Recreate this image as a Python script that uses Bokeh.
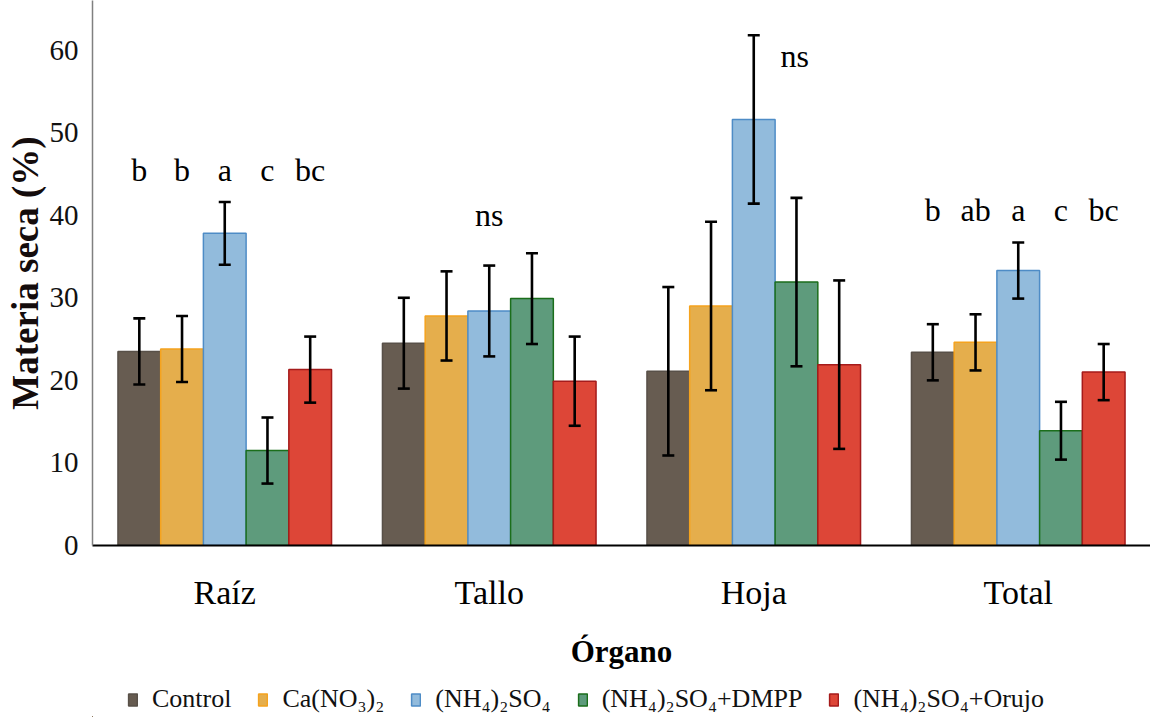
from bokeh.plotting import figure
from bokeh.layouts import column
from bokeh.models import ColumnDataSource, Whisker, TeeHead, Legend, LegendItem, Range1d, FixedTicker
from bokeh.core.properties import value
from bokeh.embed import file_html
from bokeh.resources import INLINE

# ---- data ----
organs = ["Raíz", "Tallo", "Hoja", "Total"]
treatments = ["Control", "Ca(NO₃)₂", "(NH₄)₂SO₄", "(NH₄)₂SO₄+DMPP", "(NH₄)₂SO₄+Orujo"]

control = [23.5, 24.5, 21.1, 23.4]
ca_no3 = [23.8, 27.8, 29.0, 24.6]
nh4_so4 = [37.8, 28.4, 51.6, 33.3]
nh4_dmpp = [11.5, 29.9, 31.9, 13.9]
nh4_orujo = [21.3, 19.9, 21.9, 21.0]

err_control = [4.0, 5.5, 10.2, 3.4]
err_ca_no3 = [4.0, 5.4, 10.2, 3.4]
err_nh4_so4 = [3.8, 5.5, 10.2, 3.4]
err_nh4_dmpp = [4.0, 5.5, 10.2, 3.5]
err_nh4_orujo = [4.0, 5.4, 10.2, 3.4]

letters_raiz = ["b", "b", "a", "c", "bc"]
letters_total = ["b", "ab", "a", "c", "bc"]
ns_tallo = "ns"
ns_hoja = "ns"

y_ticks = [0, 10, 20, 30, 40, 50, 60]

series_values = [control, ca_no3, nh4_so4, nh4_dmpp, nh4_orujo]
series_errors = [err_control, err_ca_no3, err_nh4_so4, err_nh4_dmpp, err_nh4_orujo]

fills = ["#675c51", "#e5ae4c", "#92bbdc", "#5e9b7c", "#dd4637"]
borders = ["#585048", "#f5a31e", "#4e8cc6", "#1b6e1b", "#a51b1b"]

FONT = "Liberation Serif"

p = figure(width=1150, height=680, output_backend="svg", toolbar_location=None,
           x_range=Range1d(0, 4), y_range=Range1d(0, 66),
           min_border_left=92, min_border_right=0, min_border_top=0, min_border_bottom=135)
p.outline_line_color = None
p.xgrid.visible = False
p.ygrid.visible = False
p.background_fill_color = "white"
p.border_fill_color = "white"

bar_w = 0.1615
offsets = [-2 * bar_w, -bar_w, 0.0, bar_w, 2 * bar_w]
centers = [i + 0.5 for i in range(len(organs))]

sources = []
for k, (vals, errs) in enumerate(zip(series_values, series_errors)):
    xs = [c + offsets[k] for c in centers]
    src = ColumnDataSource(dict(x=xs, top=vals,
                                upper=[v + e for v, e in zip(vals, errs)],
                                lower=[v - e for v, e in zip(vals, errs)]))
    sources.append(src)
    p.vbar(x="x", top="top", width=bar_w, source=src, fill_color=fills[k],
           line_color=borders[k], line_width=1.5)
    w = Whisker(base="x", upper="upper", lower="lower", source=src,
                line_color="black", line_width=2.6, level="overlay",
                upper_head=TeeHead(size=12, line_color="black", line_width=2.6),
                lower_head=TeeHead(size=12, line_color="black", line_width=2.6))
    p.add_layout(w)

# significance letters
y_raiz_letters = 45.5
y_total_letters = 40.6
y_tallo_ns = 40.0
y_hoja_ns = 59.3
LET_SIZE = "32px"
p.text(x=[centers[0] + o for o in offsets], y=[y_raiz_letters] * 5, text=letters_raiz,
       text_font=value(FONT), text_font_size=LET_SIZE, text_align="center",
       text_baseline="middle", text_color="black")
p.text(x=[centers[3] + o for o in offsets], y=[y_total_letters] * 5, text=letters_total,
       text_font=value(FONT), text_font_size=LET_SIZE, text_align="center",
       text_baseline="middle", text_color="black")
p.text(x=[centers[1]], y=[y_tallo_ns], text=[ns_tallo],
       text_font=value(FONT), text_font_size=LET_SIZE, text_align="center",
       text_baseline="middle", text_color="black")
p.text(x=[centers[2] + 0.155], y=[y_hoja_ns], text=[ns_hoja],
       text_font=value(FONT), text_font_size=LET_SIZE, text_align="center",
       text_baseline="middle", text_color="black")

# axes
p.yaxis.ticker = FixedTicker(ticks=y_ticks)
p.yaxis.major_tick_line_color = None
p.yaxis.minor_tick_line_color = None
p.yaxis.axis_line_color = "#808080"
p.yaxis.axis_line_width = 1.5
p.yaxis.major_label_text_font = FONT
p.yaxis.major_label_text_font_size = "29px"
p.yaxis.major_label_text_color = "#111111"
p.yaxis.major_label_standoff = 8
p.yaxis.axis_label = "Materia seca (%)"
p.yaxis.axis_label_text_font = FONT
p.yaxis.axis_label_text_font_style = "bold"
p.yaxis.axis_label_text_font_size = "37px"
p.yaxis.axis_label_text_color = "#140c0c"
p.yaxis.axis_label_standoff = 1

p.xaxis.ticker = FixedTicker(ticks=centers)
p.xaxis.major_label_overrides = {c: o for c, o in zip(centers, organs)}
p.xaxis.major_tick_line_color = None
p.xaxis.minor_tick_line_color = None
p.xaxis.axis_line_color = "black"
p.xaxis.axis_line_width = 2
p.xaxis.major_label_text_font = FONT
p.xaxis.major_label_text_font_size = "34px"
p.xaxis.major_label_text_color = "black"
p.xaxis.major_label_standoff = 22
p.xaxis.axis_label = "Órgano"
p.xaxis.axis_label_text_font = FONT
p.xaxis.axis_label_text_font_style = "bold"
p.xaxis.axis_label_text_font_size = "31px"
p.xaxis.axis_label_text_color = "black"
p.xaxis.axis_label_standoff = 20

# legend strip: same series drawn far out of view so only the legend swatches show
lg = figure(width=1150, height=37, output_backend="svg", toolbar_location=None,
            x_range=Range1d(10000, 10001), y_range=Range1d(50000, 50001),
            x_axis_location=None, y_axis_location=None,
            min_border_left=0, min_border_right=0, min_border_top=0, min_border_bottom=0)
lg.xgrid.visible = False
lg.ygrid.visible = False
lg.outline_line_color = None
items = []
for k in range(len(treatments)):
    r = lg.vbar(x="x", top="top", width=bar_w, source=sources[k],
                fill_color=fills[k], line_color=borders[k], line_width=1.5)
    items.append(LegendItem(label=treatments[k], renderers=[r]))
legend = Legend(items=items, orientation="horizontal", location=(35, 3),
                label_text_font=FONT, label_text_font_size="26px",
                label_text_color="#111111", glyph_width=11, glyph_height=15,
                label_standoff=14, spacing=26, padding=0, margin=0,
                border_line_color=None, background_fill_alpha=0)
lg.add_layout(legend, "center")

open("out.html", "w").write(file_html(column(p, lg), INLINE))
